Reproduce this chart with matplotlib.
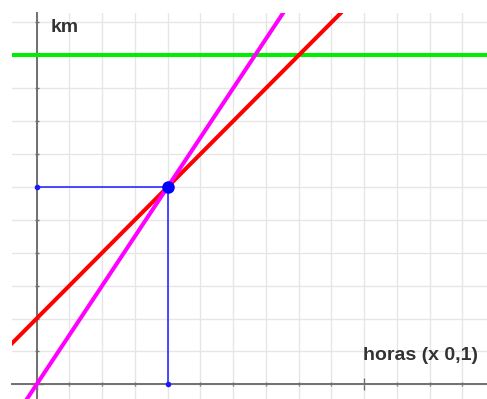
import matplotlib
matplotlib.use("Agg")
import matplotlib.pyplot as plt
from matplotlib.ticker import MultipleLocator

# Two points on each straight line (hours x 0.1, km)
red_pts = [(0, 2), (8, 10)]
magenta_pts = [(0, 0), (4, 6)]
green_level = 10
meet_x, meet_y = 4, 6

x_label = "horas (x 0,1)"
y_label = "km"

fig = plt.figure(figsize=(4.87, 3.99), dpi=100)
W, H = 487, 399
ax = fig.add_axes([11.7 / W, 0, 1 - 11.7 / W, (H - 13.3) / H])

px = 32.75
py = 32.9
x0, y0 = 36.7, 384.3
ax.set_xlim((11.7 - x0) / px, (W - x0) / px)
ax.set_ylim((y0 - H) / py, (y0 - 13.3) / py)

# grid every unit
ax.xaxis.set_minor_locator(MultipleLocator(1))
ax.yaxis.set_minor_locator(MultipleLocator(1))
ax.xaxis.set_major_locator(MultipleLocator(10))
ax.yaxis.set_major_locator(MultipleLocator(10))
ax.grid(which="both", color="#e6e6e6", linewidth=1.0)
ax.set_axisbelow(True)

axis_col = "#707070"
for side in ("top", "right"):
    ax.spines[side].set_visible(False)
ax.spines["left"].set_position(("data", 0))
ax.spines["bottom"].set_position(("data", 0))
for side in ("left", "bottom"):
    ax.spines[side].set_color(axis_col)
    ax.spines[side].set_linewidth(1.4)
ax.tick_params(which="minor", direction="inout", length=3.5, width=1, color=axis_col)
ax.tick_params(which="major", direction="inout", length=8, width=1, color=axis_col)
ax.tick_params(labelbottom=False, labelleft=False)

lw = 2.9
ax.axhline(green_level, color="#00ee00", linewidth=lw, zorder=3)
ax.axline(red_pts[0], red_pts[1], color="#ff0000", linewidth=lw, zorder=4)
ax.axline(magenta_pts[0], magenta_pts[1], color="#ff00ff", linewidth=lw, zorder=5)

blue = "#1a1aff"
ax.plot([0, meet_x], [meet_y, meet_y], color=blue, linewidth=1.1, zorder=6)
ax.plot([meet_x, meet_x], [0, meet_y], color=blue, linewidth=1.1, zorder=6)
ax.plot([0, meet_x], [meet_y, 0], linestyle="none", marker="o", markersize=3,
        color=blue, zorder=7)
ax.plot([meet_x], [meet_y], linestyle="none", marker="o", markersize=8,
        color="#0000ff", zorder=8)

txt = dict(fontfamily="Liberation Sans", fontweight="bold", fontsize=14,
           color="#333333", va="center", ha="left")
ax.text(0.41, 10.86, y_label, **txt)
ax.text(9.96, 0.89, x_label, **txt)

fig.savefig("out.png", dpi=100)
